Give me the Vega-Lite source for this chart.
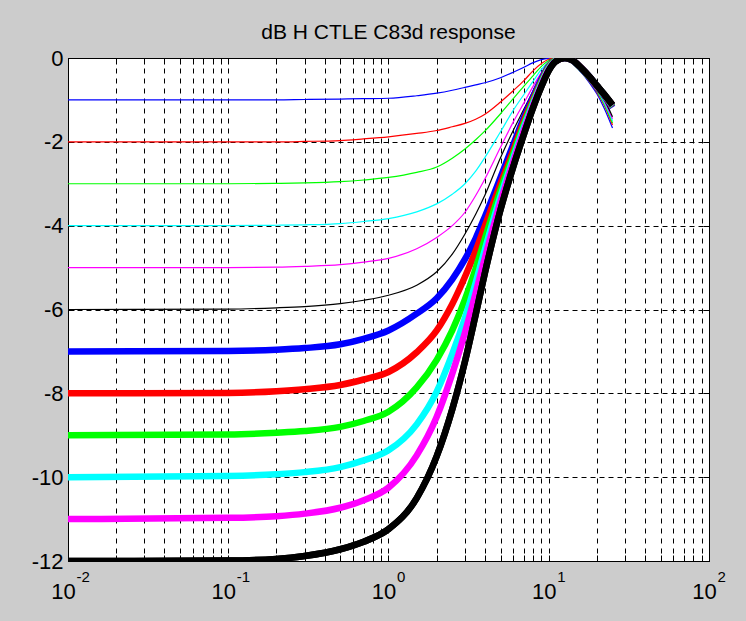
{
"$schema": "https://vega.github.io/schema/vega-lite/v6.json",
"width": 641, "height": 503,
"autosize": {"type": "none"},
"padding": {"left": 68, "top": 58, "right": 37, "bottom": 60},
"background": "#cccccc",
"title": {"text": "dB H CTLE C83d response", "fontSize": 21, "font": "Liberation Sans", "fontWeight": "normal", "color": "#000000", "anchor": "middle", "frame": "group", "offset": 4},
"config": {"view": {"stroke": "#000000", "strokeWidth": 1, "fill": "#ffffff"}},
"data": {"values": [
{"curve":1,"f":0.01,"db":-1},{"curve":1,"f":0.1,"db":-1},{"curve":1,"f":0.2,"db":-1},{"curve":1,"f":0.3,"db":-0.99},{"curve":1,"f":0.5,"db":-0.98},{"curve":1,"f":0.7,"db":-0.97},{"curve":1,"f":1,"db":-0.96},{"curve":1,"f":1.5,"db":-0.9},{"curve":1,"f":2,"db":-0.84},{"curve":1,"f":2.5,"db":-0.77},{"curve":1,"f":3,"db":-0.7},{"curve":1,"f":3.5,"db":-0.64},{"curve":1,"f":4,"db":-0.59},{"curve":1,"f":5,"db":-0.47},{"curve":1,"f":6,"db":-0.34},{"curve":1,"f":7,"db":-0.22},{"curve":1,"f":8,"db":-0.11},{"curve":1,"f":9,"db":-0.04},{"curve":1,"f":10,"db":-0.01},{"curve":1,"f":11,"db":0},{"curve":1,"f":12.6,"db":0},{"curve":1,"f":14,"db":-0.1},{"curve":1,"f":16,"db":-0.34},{"curve":1,"f":18,"db":-0.6},{"curve":1,"f":20,"db":-0.86},{"curve":1,"f":22,"db":-1.17},{"curve":1,"f":25,"db":-1.67},
{"curve":2,"f":0.01,"db":-2},{"curve":2,"f":0.1,"db":-2},{"curve":2,"f":0.2,"db":-2},{"curve":2,"f":0.3,"db":-1.99},{"curve":2,"f":0.5,"db":-1.97},{"curve":2,"f":0.7,"db":-1.93},{"curve":2,"f":1,"db":-1.88},{"curve":2,"f":1.5,"db":-1.8},{"curve":2,"f":2,"db":-1.73},{"curve":2,"f":2.5,"db":-1.64},{"curve":2,"f":3,"db":-1.56},{"curve":2,"f":3.5,"db":-1.46},{"curve":2,"f":4,"db":-1.34},{"curve":2,"f":5,"db":-1.05},{"curve":2,"f":6,"db":-0.78},{"curve":2,"f":7,"db":-0.54},{"curve":2,"f":8,"db":-0.3},{"curve":2,"f":9,"db":-0.13},{"curve":2,"f":10,"db":-0.03},{"curve":2,"f":11,"db":0},{"curve":2,"f":12.6,"db":0},{"curve":2,"f":14,"db":-0.09},{"curve":2,"f":16,"db":-0.32},{"curve":2,"f":18,"db":-0.57},{"curve":2,"f":20,"db":-0.82},{"curve":2,"f":22,"db":-1.1},{"curve":2,"f":25,"db":-1.6},
{"curve":3,"f":0.01,"db":-3},{"curve":3,"f":0.1,"db":-3},{"curve":3,"f":0.2,"db":-2.99},{"curve":3,"f":0.3,"db":-2.98},{"curve":3,"f":0.5,"db":-2.95},{"curve":3,"f":0.7,"db":-2.91},{"curve":3,"f":1,"db":-2.85},{"curve":3,"f":1.5,"db":-2.73},{"curve":3,"f":2,"db":-2.6},{"curve":3,"f":2.5,"db":-2.39},{"curve":3,"f":3,"db":-2.17},{"curve":3,"f":3.5,"db":-1.95},{"curve":3,"f":4,"db":-1.74},{"curve":3,"f":5,"db":-1.33},{"curve":3,"f":6,"db":-0.97},{"curve":3,"f":7,"db":-0.67},{"curve":3,"f":8,"db":-0.42},{"curve":3,"f":9,"db":-0.2},{"curve":3,"f":10,"db":-0.06},{"curve":3,"f":11,"db":-0.01},{"curve":3,"f":12.6,"db":0},{"curve":3,"f":14,"db":-0.08},{"curve":3,"f":16,"db":-0.3},{"curve":3,"f":18,"db":-0.55},{"curve":3,"f":20,"db":-0.8},{"curve":3,"f":22,"db":-1.07},{"curve":3,"f":25,"db":-1.55},
{"curve":4,"f":0.01,"db":-4},{"curve":4,"f":0.1,"db":-4},{"curve":4,"f":0.2,"db":-3.99},{"curve":4,"f":0.3,"db":-3.98},{"curve":4,"f":0.5,"db":-3.95},{"curve":4,"f":0.7,"db":-3.9},{"curve":4,"f":1,"db":-3.83},{"curve":4,"f":1.5,"db":-3.67},{"curve":4,"f":2,"db":-3.48},{"curve":4,"f":2.5,"db":-3.25},{"curve":4,"f":3,"db":-3},{"curve":4,"f":3.5,"db":-2.7},{"curve":4,"f":4,"db":-2.37},{"curve":4,"f":5,"db":-1.76},{"curve":4,"f":6,"db":-1.25},{"curve":4,"f":7,"db":-0.87},{"curve":4,"f":8,"db":-0.55},{"curve":4,"f":9,"db":-0.27},{"curve":4,"f":10,"db":-0.1},{"curve":4,"f":11,"db":-0.02},{"curve":4,"f":12.6,"db":0},{"curve":4,"f":14,"db":-0.08},{"curve":4,"f":16,"db":-0.3},{"curve":4,"f":18,"db":-0.54},{"curve":4,"f":20,"db":-0.78},{"curve":4,"f":22,"db":-1.04},{"curve":4,"f":25,"db":-1.5},
{"curve":5,"f":0.01,"db":-5},{"curve":5,"f":0.1,"db":-5},{"curve":5,"f":0.2,"db":-4.99},{"curve":5,"f":0.3,"db":-4.97},{"curve":5,"f":0.5,"db":-4.93},{"curve":5,"f":0.7,"db":-4.87},{"curve":5,"f":1,"db":-4.78},{"curve":5,"f":1.5,"db":-4.55},{"curve":5,"f":2,"db":-4.28},{"curve":5,"f":2.5,"db":-4},{"curve":5,"f":3,"db":-3.68},{"curve":5,"f":3.5,"db":-3.28},{"curve":5,"f":4,"db":-2.88},{"curve":5,"f":5,"db":-2.13},{"curve":5,"f":6,"db":-1.53},{"curve":5,"f":7,"db":-1.07},{"curve":5,"f":8,"db":-0.67},{"curve":5,"f":9,"db":-0.35},{"curve":5,"f":10,"db":-0.13},{"curve":5,"f":11,"db":-0.03},{"curve":5,"f":12.6,"db":0},{"curve":5,"f":14,"db":-0.07},{"curve":5,"f":16,"db":-0.28},{"curve":5,"f":18,"db":-0.52},{"curve":5,"f":20,"db":-0.75},{"curve":5,"f":22,"db":-1},{"curve":5,"f":25,"db":-1.45},
{"curve":6,"f":0.01,"db":-6},{"curve":6,"f":0.1,"db":-5.99},{"curve":6,"f":0.2,"db":-5.96},{"curve":6,"f":0.3,"db":-5.93},{"curve":6,"f":0.5,"db":-5.86},{"curve":6,"f":0.7,"db":-5.78},{"curve":6,"f":1,"db":-5.66},{"curve":6,"f":1.5,"db":-5.42},{"curve":6,"f":2,"db":-5.1},{"curve":6,"f":2.5,"db":-4.68},{"curve":6,"f":3,"db":-4.2},{"curve":6,"f":3.5,"db":-3.73},{"curve":6,"f":4,"db":-3.27},{"curve":6,"f":5,"db":-2.38},{"curve":6,"f":6,"db":-1.73},{"curve":6,"f":7,"db":-1.22},{"curve":6,"f":8,"db":-0.78},{"curve":6,"f":9,"db":-0.42},{"curve":6,"f":10,"db":-0.15},{"curve":6,"f":11,"db":-0.04},{"curve":6,"f":12.6,"db":0},{"curve":6,"f":14,"db":-0.07},{"curve":6,"f":16,"db":-0.27},{"curve":6,"f":18,"db":-0.5},{"curve":6,"f":20,"db":-0.73},{"curve":6,"f":22,"db":-0.97},{"curve":6,"f":25,"db":-1.4},
{"curve":7,"f":0.01,"db":-7},{"curve":7,"f":0.1,"db":-6.99},{"curve":7,"f":0.2,"db":-6.96},{"curve":7,"f":0.3,"db":-6.92},{"curve":7,"f":0.5,"db":-6.83},{"curve":7,"f":0.7,"db":-6.7},{"curve":7,"f":1,"db":-6.5},{"curve":7,"f":1.5,"db":-6.1},{"curve":7,"f":2,"db":-5.73},{"curve":7,"f":2.5,"db":-5.28},{"curve":7,"f":3,"db":-4.8},{"curve":7,"f":3.5,"db":-4.3},{"curve":7,"f":4,"db":-3.78},{"curve":7,"f":5,"db":-2.85},{"curve":7,"f":6,"db":-2.07},{"curve":7,"f":7,"db":-1.42},{"curve":7,"f":8,"db":-0.92},{"curve":7,"f":9,"db":-0.5},{"curve":7,"f":10,"db":-0.19},{"curve":7,"f":11,"db":-0.05},{"curve":7,"f":12.6,"db":0},{"curve":7,"f":14,"db":-0.05},{"curve":7,"f":16,"db":-0.26},{"curve":7,"f":18,"db":-0.47},{"curve":7,"f":20,"db":-0.69},{"curve":7,"f":22,"db":-0.88},{"curve":7,"f":25,"db":-1.18},
{"curve":8,"f":0.01,"db":-8},{"curve":8,"f":0.1,"db":-7.99},{"curve":8,"f":0.2,"db":-7.95},{"curve":8,"f":0.3,"db":-7.9},{"curve":8,"f":0.5,"db":-7.8},{"curve":8,"f":0.7,"db":-7.67},{"curve":8,"f":1,"db":-7.49},{"curve":8,"f":1.5,"db":-7.02},{"curve":8,"f":2,"db":-6.5},{"curve":8,"f":2.5,"db":-5.87},{"curve":8,"f":3,"db":-5.22},{"curve":8,"f":3.5,"db":-4.6},{"curve":8,"f":4,"db":-4},{"curve":8,"f":5,"db":-3},{"curve":8,"f":6,"db":-2.2},{"curve":8,"f":7,"db":-1.5},{"curve":8,"f":8,"db":-0.98},{"curve":8,"f":9,"db":-0.55},{"curve":8,"f":10,"db":-0.21},{"curve":8,"f":11,"db":-0.05},{"curve":8,"f":12.6,"db":0},{"curve":8,"f":14,"db":-0.05},{"curve":8,"f":16,"db":-0.25},{"curve":8,"f":18,"db":-0.46},{"curve":8,"f":20,"db":-0.68},{"curve":8,"f":22,"db":-0.87},{"curve":8,"f":25,"db":-1.16},
{"curve":9,"f":0.01,"db":-9},{"curve":9,"f":0.1,"db":-8.98},{"curve":9,"f":0.2,"db":-8.94},{"curve":9,"f":0.3,"db":-8.9},{"curve":9,"f":0.5,"db":-8.8},{"curve":9,"f":0.7,"db":-8.66},{"curve":9,"f":1,"db":-8.44},{"curve":9,"f":1.5,"db":-7.86},{"curve":9,"f":2,"db":-7.2},{"curve":9,"f":2.5,"db":-6.5},{"curve":9,"f":3,"db":-5.76},{"curve":9,"f":3.5,"db":-5.02},{"curve":9,"f":4,"db":-4.3},{"curve":9,"f":5,"db":-3.15},{"curve":9,"f":6,"db":-2.3},{"curve":9,"f":7,"db":-1.58},{"curve":9,"f":8,"db":-1.03},{"curve":9,"f":9,"db":-0.58},{"curve":9,"f":10,"db":-0.23},{"curve":9,"f":11,"db":-0.06},{"curve":9,"f":12.6,"db":0},{"curve":9,"f":14,"db":-0.05},{"curve":9,"f":16,"db":-0.25},{"curve":9,"f":18,"db":-0.46},{"curve":9,"f":20,"db":-0.68},{"curve":9,"f":22,"db":-0.87},{"curve":9,"f":25,"db":-1.15},
{"curve":10,"f":0.01,"db":-10},{"curve":10,"f":0.1,"db":-9.97},{"curve":10,"f":0.2,"db":-9.93},{"curve":10,"f":0.3,"db":-9.88},{"curve":10,"f":0.5,"db":-9.76},{"curve":10,"f":0.7,"db":-9.6},{"curve":10,"f":1,"db":-9.36},{"curve":10,"f":1.5,"db":-8.74},{"curve":10,"f":2,"db":-7.96},{"curve":10,"f":2.5,"db":-7.06},{"curve":10,"f":3,"db":-6.2},{"curve":10,"f":3.5,"db":-5.36},{"curve":10,"f":4,"db":-4.56},{"curve":10,"f":5,"db":-3.3},{"curve":10,"f":6,"db":-2.4},{"curve":10,"f":7,"db":-1.65},{"curve":10,"f":8,"db":-1.08},{"curve":10,"f":9,"db":-0.61},{"curve":10,"f":10,"db":-0.25},{"curve":10,"f":11,"db":-0.07},{"curve":10,"f":12.6,"db":0},{"curve":10,"f":14,"db":-0.05},{"curve":10,"f":16,"db":-0.25},{"curve":10,"f":18,"db":-0.45},{"curve":10,"f":20,"db":-0.67},{"curve":10,"f":22,"db":-0.86},{"curve":10,"f":25,"db":-1.14},
{"curve":11,"f":0.01,"db":-11},{"curve":11,"f":0.1,"db":-10.97},{"curve":11,"f":0.2,"db":-10.93},{"curve":11,"f":0.3,"db":-10.87},{"curve":11,"f":0.5,"db":-10.73},{"curve":11,"f":0.7,"db":-10.55},{"curve":11,"f":1,"db":-10.25},{"curve":11,"f":1.5,"db":-9.48},{"curve":11,"f":2,"db":-8.56},{"curve":11,"f":2.5,"db":-7.53},{"curve":11,"f":3,"db":-6.55},{"curve":11,"f":3.5,"db":-5.6},{"curve":11,"f":4,"db":-4.76},{"curve":11,"f":5,"db":-3.43},{"curve":11,"f":6,"db":-2.48},{"curve":11,"f":7,"db":-1.72},{"curve":11,"f":8,"db":-1.12},{"curve":11,"f":9,"db":-0.64},{"curve":11,"f":10,"db":-0.27},{"curve":11,"f":11,"db":-0.08},{"curve":11,"f":12.6,"db":0},{"curve":11,"f":14,"db":-0.05},{"curve":11,"f":16,"db":-0.24},{"curve":11,"f":18,"db":-0.45},{"curve":11,"f":20,"db":-0.67},{"curve":11,"f":22,"db":-0.86},{"curve":11,"f":25,"db":-1.13},
{"curve":12,"f":0.01,"db":-12},{"curve":12,"f":0.1,"db":-11.99},{"curve":12,"f":0.2,"db":-11.95},{"curve":12,"f":0.3,"db":-11.88},{"curve":12,"f":0.5,"db":-11.72},{"curve":12,"f":0.7,"db":-11.54},{"curve":12,"f":1,"db":-11.24},{"curve":12,"f":1.5,"db":-10.5},{"curve":12,"f":2,"db":-9.5},{"curve":12,"f":2.5,"db":-8.38},{"curve":12,"f":3,"db":-7.24},{"curve":12,"f":3.5,"db":-6.12},{"curve":12,"f":4,"db":-5.12},{"curve":12,"f":5,"db":-3.62},{"curve":12,"f":6,"db":-2.6},{"curve":12,"f":7,"db":-1.82},{"curve":12,"f":8,"db":-1.18},{"curve":12,"f":9,"db":-0.68},{"curve":12,"f":10,"db":-0.3},{"curve":12,"f":11,"db":-0.09},{"curve":12,"f":12.6,"db":0},{"curve":12,"f":14,"db":-0.05},{"curve":12,"f":16,"db":-0.24},{"curve":12,"f":18,"db":-0.45},{"curve":12,"f":20,"db":-0.66},{"curve":12,"f":22,"db":-0.85},{"curve":12,"f":25,"db":-1.12}
]},
"layer": [
{
"transform": [{"filter": "datum.curve <= 6"}],
"mark": {"type": "line", "strokeWidth": 1.2, "clip": true, "interpolate": "monotone"},
"encoding": {
"x": {"field": "f", "type": "quantitative", "scale": {"type": "log", "domain": [0.01, 100]},
"axis": {"orient": "bottom", "title": null, "values": [0.01,0.02,0.03,0.04,0.05,0.06,0.07,0.08,0.09,0.1,0.2,0.3,0.4,0.5,0.6,0.7,0.8,0.9,1,2,3,4,5,6,7,8,9,10,20,30,40,50,60,70,80,90,100],
"grid": true, "gridColor": "#000000", "gridDash": [5,5], "gridWidth": 1, "gridOpacity": 1,
"domain": false, "ticks": true, "tickSize": -6, "tickColor": "#000000", "tickWidth": 1,
"labelExpr": "abs(log(datum.value)/LN10 - round(log(datum.value)/LN10)) < 0.000001 ? '10' : ''",
"labelFont": "Liberation Sans", "labelFontSize": 22, "labelColor": "#000000", "labelPadding": 26, "labelOffset": -5,
"labelFlush": false, "labelOverlap": false, "labelBaseline": "top", "labelAlign": "center"}},
"y": {"field": "db", "type": "quantitative", "scale": {"domain": [-12, 0], "nice": false, "zero": false},
"axis": {"orient": "left", "title": null, "values": [-12,-10,-8,-6,-4,-2,0],
"grid": true, "gridColor": "#000000", "gridDash": [5,4], "gridWidth": 1, "gridOpacity": 1,
"domain": false, "ticks": true, "tickSize": -6, "tickColor": "#000000",
"labelExpr": "'' + datum.value", "labelFont": "Liberation Sans", "labelFontSize": 22, "labelColor": "#000000", "labelPadding": 11,
"labelFlush": false, "labelOverlap": false, "labelBaseline": "middle", "labelAlign": "right"}},
"color": {"field": "curve", "type": "nominal", "scale": {"domain": [1,2,3,4,5,6,7,8,9,10,11,12], "range": ["#0000ff","#ff0000","#00ff00","#00ffff","#ff00ff","#000000","#0000ff","#ff0000","#00ff00","#00ffff","#ff00ff","#000000"]}, "legend": null}
}
},
{
"transform": [{"filter": "datum.curve >= 7"}],
"mark": {"type": "line", "strokeWidth": 6.5, "clip": true, "interpolate": "monotone"},
"encoding": {
"x": {"field": "f", "type": "quantitative", "scale": {"type": "log", "domain": [0.01, 100]},
"axis": {"orient": "bottom", "title": null, "values": [0.01,0.1,1,10,100], "grid": false, "domain": false, "ticks": false,
"labelExpr": "'' + round(log(datum.value)/LN10)",
"labelFont": "Liberation Sans", "labelFontSize": 15, "labelColor": "#000000", "labelPadding": 8, "labelOffset": 8,
"labelFlush": false, "labelOverlap": false, "labelBaseline": "top", "labelAlign": "left"}},
"y": {"field": "db", "type": "quantitative", "scale": {"domain": [-12, 0], "nice": false, "zero": false},
"axis": {"orient": "right", "title": null, "values": [-12,-10,-8,-6,-4,-2,0], "grid": false, "domain": false, "labels": false, "ticks": true, "tickSize": -6, "tickColor": "#000000"}},
"color": {"field": "curve", "type": "nominal", "scale": {"domain": [1,2,3,4,5,6,7,8,9,10,11,12], "range": ["#0000ff","#ff0000","#00ff00","#00ffff","#ff00ff","#000000","#0000ff","#ff0000","#00ff00","#00ffff","#ff00ff","#000000"]}, "legend": null}
}
},
{
"transform": [{"filter": "datum.curve == 12"}],
"mark": {"type": "line", "strokeWidth": 6.5, "clip": true, "interpolate": "monotone", "color": "#000000"},
"encoding": {
"x": {"field": "f", "type": "quantitative", "scale": {"type": "log", "domain": [0.01, 100]},
"axis": {"orient": "top", "title": null, "values": [0.01,0.02,0.03,0.04,0.05,0.06,0.07,0.08,0.09,0.1,0.2,0.3,0.4,0.5,0.6,0.7,0.8,0.9,1,2,3,4,5,6,7,8,9,10,20,30,40,50,60,70,80,90,100],
"grid": false, "domain": false, "labels": false, "ticks": true, "tickSize": -6, "tickColor": "#000000"}},
"y": {"field": "db", "type": "quantitative", "scale": {"domain": [-12, 0], "nice": false, "zero": false}, "axis": null}
}
}
],
"resolve": {"axis": {"x": "independent", "y": "independent"}}
}
